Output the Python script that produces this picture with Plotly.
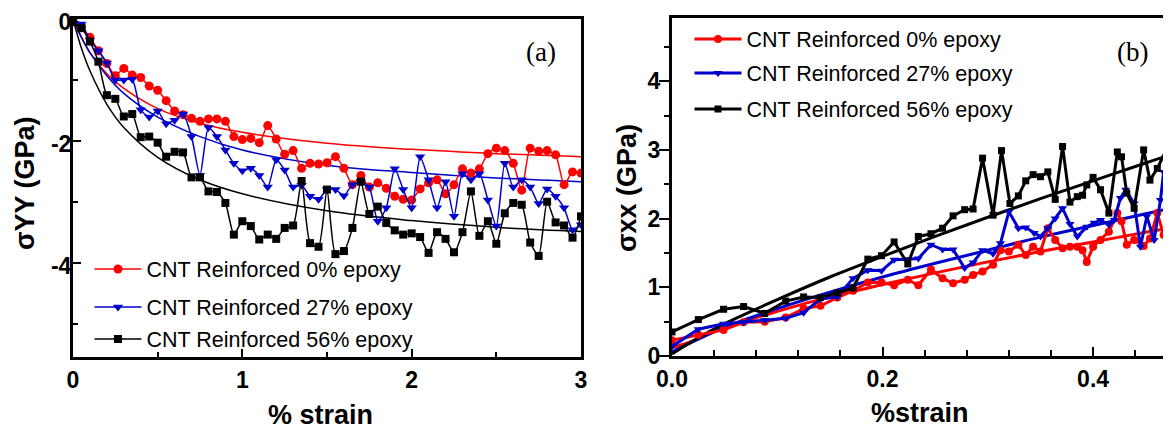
import plotly.graph_objects as go

# page body has an 8px margin: the figure is drawn at (8, 8)
OFF = 8
W, H = 1171 - OFF, 430 - OFF

# ---------------- Panel (a): sigma YY vs % strain ----------------
strain_a = [round(0.05 * i, 2) for i in range(61)]
syy_0 = [0, -0.13, -0.30, -0.52, -0.73, -0.93, -0.81, -0.92, -0.96, -1.10, -1.17,
         -1.34, -1.51, -1.57, -1.63, -1.68, -1.64, -1.64, -1.68, -1.93, -1.98,
         -1.96, -2.03, -1.75, -1.97, -2.22, -2.16, -2.45, -2.37, -2.38, -2.36,
         -2.26, -2.45, -2.72, -2.57, -2.76, -2.69, -2.78, -2.91, -2.96, -2.97,
         -2.79, -2.69, -2.64, -2.87, -2.72, -2.46, -2.53, -2.46, -2.21, -2.12,
         -2.16, -2.37, -2.81, -2.12, -2.17, -2.16, -2.23, -2.72, -2.51, -2.53]
syy_27 = [-0.02, -0.08, -0.35, -0.52, -0.72, -1.00, -1.00, -0.99, -1.49, -1.61, -1.51,
          -1.72, -1.66, -1.56, -1.93, -2.57, -1.78, -1.93, -2.15, -2.37, -2.49,
          -2.45, -2.57, -2.76, -2.31, -2.48, -2.76, -2.73, -2.91, -2.96, -2.80,
          -2.80, -2.90, -2.72, -2.67, -2.76, -3.32, -3.10, -2.46, -2.80, -3.10,
          -2.26, -2.64, -3.10, -2.67, -3.24, -2.54, -2.64, -2.54, -2.97, -3.40,
          -2.37, -2.76, -2.64, -2.76, -3.03, -2.79, -2.91, -3.10, -3.46, -3.38]
syy_56 = [-0.05, -0.15, -0.37, -0.70, -1.25, -1.31, -1.60, -1.56, -1.94, -1.93, -2.03,
          -2.26, -2.18, -2.19, -2.60, -2.60, -2.83, -2.84, -3.02, -3.54, -3.32,
          -3.40, -3.62, -3.54, -3.61, -3.43, -3.39, -2.66, -3.68, -3.74, -2.80,
          -3.86, -3.81, -3.43, -2.67, -3.20, -3.08, -3.35, -3.47, -3.54, -3.52,
          -3.58, -3.84, -3.50, -3.61, -3.83, -3.50, -2.83, -3.56, -3.32, -3.69,
          -3.19, -3.02, -3.05, -3.67, -3.89, -3.00, -3.34, -3.39, -3.59, -3.24]
fit_x_a = [0, 0.05, 0.1, 0.2, 0.3, 0.5, 0.75, 1.0, 1.5, 2.0, 2.5, 3.0]
fit_a_0 = [0, -0.30, -0.55, -0.90, -1.14, -1.47, -1.71, -1.86, -2.04, -2.14, -2.21, -2.26]
fit_a_27 = [0, -0.30, -0.55, -0.93, -1.22, -1.61, -1.93, -2.15, -2.40, -2.52, -2.61, -2.67]
fit_a_56 = [0, -0.48, -0.85, -1.40, -1.78, -2.27, -2.64, -2.87, -3.15, -3.31, -3.42, -3.49]

# ---------------- Panel (b): sigma XX vs %strain ----------------
strain_b_0 = [0.0, 0.025, 0.049, 0.068, 0.088, 0.108, 0.125, 0.141, 0.157, 0.172, 0.186,
              0.199, 0.211, 0.224, 0.234, 0.246, 0.257, 0.267, 0.278, 0.286, 0.295,
              0.305, 0.312, 0.320, 0.329, 0.336, 0.343, 0.350, 0.357, 0.364, 0.371,
              0.378, 0.385, 0.390, 0.394, 0.400, 0.407, 0.415, 0.423, 0.427, 0.432,
              0.439, 0.448, 0.454, 0.461, 0.467, 0.472]
sxx_0 = [0.23, 0.31, 0.38, 0.49, 0.50, 0.56, 0.69, 0.73, 0.85, 0.95, 1.07,
         1.07, 1.03, 1.11, 1.03, 1.26, 1.13, 1.06, 1.11, 1.18, 1.23,
         1.33, 1.54, 1.52, 1.62, 1.47, 1.59, 1.52, 1.86, 1.69, 1.57,
         1.59, 1.59, 1.54, 1.37, 1.59, 1.69, 1.81, 2.08, 1.96, 1.62,
         1.69, 1.60, 1.71, 2.08, 1.76, 1.62]
strain_b_27 = [0.0, 0.025, 0.049, 0.068, 0.088, 0.108, 0.125, 0.141, 0.157, 0.172, 0.186,
               0.199, 0.211, 0.224, 0.234, 0.246, 0.257, 0.267, 0.278, 0.286, 0.295,
               0.305, 0.312, 0.320, 0.329, 0.336, 0.344, 0.350, 0.357, 0.364, 0.371,
               0.378, 0.385, 0.394, 0.401, 0.407, 0.415, 0.420, 0.426, 0.431, 0.439,
               0.445, 0.451, 0.458, 0.464, 0.467, 0.472]
sxx_27 = [0.14, 0.39, 0.47, 0.49, 0.52, 0.55, 0.63, 0.83, 0.86, 1.13, 1.25,
          1.24, 1.40, 1.41, 1.42, 1.62, 1.55, 1.55, 1.28, 1.36, 1.54,
          1.49, 1.64, 2.10, 1.86, 1.87, 1.79, 1.74, 1.86, 2.00, 2.15,
          1.92, 1.74, 1.88, 1.94, 1.98, 1.91, 1.98, 2.30, 2.42, 2.22,
          1.59, 2.03, 1.69, 2.27, 2.68, 2.42]
strain_b_56 = [0.0, 0.025, 0.049, 0.068, 0.088, 0.108, 0.125, 0.141, 0.157, 0.172, 0.186,
               0.199, 0.211, 0.224, 0.234, 0.246, 0.257, 0.267, 0.278, 0.286, 0.295,
               0.305, 0.313, 0.321, 0.329, 0.336, 0.343, 0.350, 0.357, 0.364, 0.371,
               0.378, 0.385, 0.390, 0.394, 0.400, 0.407, 0.415, 0.423, 0.427, 0.432,
               0.439, 0.448, 0.454, 0.461, 0.470, 0.478]
sxx_56 = [0.35, 0.53, 0.68, 0.72, 0.62, 0.80, 0.86, 0.85, 0.92, 0.99, 1.41,
          1.46, 1.66, 1.34, 1.74, 1.78, 1.86, 2.04, 2.13, 2.14, 2.88,
          2.05, 2.99, 2.22, 2.33, 2.55, 2.64, 2.61, 2.68, 2.28, 3.05,
          2.24, 2.32, 2.34, 2.49, 2.60, 2.42, 2.08, 2.97, 2.90, 2.37,
          2.15, 3.00, 2.56, 2.73, 3.02, 2.70]
fit_x_b = [0, 0.02, 0.05, 0.1, 0.15, 0.2, 0.25, 0.3, 0.35, 0.4, 0.45, 0.48]
fit_b_0 = [0.12, 0.22, 0.41, 0.65, 0.86, 1.04, 1.21, 1.37, 1.52, 1.66, 1.80, 1.88]
fit_b_27 = [0.06, 0.21, 0.42, 0.69, 0.93, 1.15, 1.35, 1.54, 1.73, 1.90, 2.07, 2.17]
fit_b_56 = [0.03, 0.22, 0.47, 0.82, 1.15, 1.45, 1.74, 2.02, 2.29, 2.55, 2.81, 2.96]

names = ["CNT Reinforced 0% epoxy", "CNT Reinforced 27% epoxy", "CNT Reinforced 56% epoxy"]
colors = ["#ff0000", "#0000cc", "#000000"]
symbols = ["circle", "triangle-down", "square"]

fig = go.Figure()

# panel (a) fits
for fy, c in zip([fit_a_0, fit_a_27, fit_a_56], colors):
    fig.add_trace(go.Scatter(x=fit_x_a, y=fy, mode="lines", line=dict(color=c, width=1.5, shape="spline"),
                             showlegend=False, xaxis="x", yaxis="y", hoverinfo="skip"))
# panel (a) data
leg_a = ["legend", "legend2", "legend3"]
for ys, c, s, n, lg in zip([syy_0, syy_27, syy_56], colors, symbols, names, leg_a):
    fig.add_trace(go.Scatter(x=strain_a, y=ys, mode="lines+markers", name=n,
                             line=dict(color=c, width=1.5, shape="spline", smoothing=0.6),
                             marker=dict(symbol=s, size=9 if s != "square" else 8, color=c),
                             xaxis="x", yaxis="y", legend=lg))

# panel (b) fits
for fy, c in zip([fit_b_0, fit_b_27, fit_b_56], colors):
    fig.add_trace(go.Scatter(x=fit_x_b, y=fy, mode="lines", line=dict(color=c, width=3, shape="spline"),
                             showlegend=False, xaxis="x2", yaxis="y2", hoverinfo="skip"))
# panel (b) data
leg_b = ["legend4", "legend5", "legend6"]
for xs, ys, c, s, n, lg in zip([strain_b_0, strain_b_27, strain_b_56], [sxx_0, sxx_27, sxx_56],
                               colors, symbols, names, leg_b):
    fig.add_trace(go.Scatter(x=xs, y=ys, mode="lines+markers", name=n,
                             line=dict(color=c, width=3),
                             marker=dict(symbol=s, size=8 if s != "square" else 7, color=c),
                             xaxis="x2", yaxis="y2", legend=lg))

tickfont = dict(family="Liberation Sans, Arial", size=23, color="black", weight="bold")
FRAME = 3

def px(xp):
    return (xp - OFF) / W

def py(yp):
    return 1 - (yp - OFF) / H

fig.update_layout(
    width=W, height=H, margin=dict(l=0, r=0, t=0, b=0, autoexpand=False),
    paper_bgcolor="white", plot_bgcolor="white",
    font=dict(family="Liberation Sans, Arial", color="black"),
    xaxis=dict(domain=[px(73), px(581)], range=[0, 3], tickmode="array",
               tickvals=[0, 1, 2, 3], ticktext=["0", "1", "2", "3"],
               ticks="inside", ticklen=8, tickwidth=2, tickcolor="black",
               minor=dict(tickmode="array", tickvals=[0.5, 1.5, 2.5], ticks="inside", ticklen=5, tickwidth=2, tickcolor="black"),
               showline=True, linewidth=FRAME, linecolor="black", mirror=True, automargin=False,
               ticklabeloverflow="allow",
               showgrid=False, zeroline=False, tickfont=tickfont, anchor="y"),
    yaxis=dict(domain=[py(357), py(19)], range=[-5.55, 0.001], tickmode="array",
               tickvals=[0, -2, -4], ticktext=["0", "-2", "-4"],
               ticks="inside", ticklen=8, tickwidth=2, tickcolor="black",
               minor=dict(tickmode="array", tickvals=[-1, -3, -5], ticks="inside", ticklen=5, tickwidth=2, tickcolor="black"),
               showline=True, linewidth=FRAME, linecolor="black", mirror=True, automargin=False,
               ticklabelstandoff=-6, ticklabelshift=3, ticklabeloverflow="allow",
               showgrid=False, zeroline=False, tickfont=tickfont, anchor="x"),
    xaxis2=dict(domain=[px(672), 1.0], range=[0, 0.474], tickmode="array",
                tickvals=[0, 0.2, 0.4], ticktext=["0.0", "0.2", "0.4"],
                ticks="inside", ticklen=9, tickwidth=2, tickcolor="black",
                minor=dict(tickmode="array", tickvals=[0.04, 0.08, 0.12, 0.16, 0.24, 0.28, 0.32, 0.36, 0.44],
                           ticks="inside", ticklen=6, tickwidth=2, tickcolor="black"),
                showline=True, linewidth=FRAME, linecolor="black", mirror=True, automargin=False,
                ticklabeloverflow="allow",
                showgrid=False, zeroline=False, tickfont=tickfont, anchor="y2"),
    yaxis2=dict(domain=[py(356), py(18)], range=[0, 4.92], tickmode="array",
                tickvals=[0, 1, 2, 3, 4], ticktext=["0", "1", "2", "3", "4"],
                ticks="outside", ticklen=10, tickwidth=2, tickcolor="black",
                minor=dict(tickmode="array", tickvals=[0.5, 1.5, 2.5, 3.5, 4.5], ticks="outside", ticklen=5, tickwidth=2, tickcolor="black"),
                showline=True, linewidth=FRAME, linecolor="black", mirror=False, automargin=False,
                ticklabelstandoff=-6, ticklabeloverflow="allow",
                showgrid=False, zeroline=False, tickfont=tickfont, anchor="x2"),
)

legfont = dict(family="Liberation Sans, Arial", size=21.5, color="black")
leg_pos = {"legend": (89.5, 269), "legend2": (89.5, 307), "legend3": (89.5, 339),
           "legend4": (689.5, 39), "legend5": (689.5, 73), "legend6": (689.5, 109)}
for k, (lx, ly) in leg_pos.items():
    fig.update_layout(**{k: dict(x=px(lx), y=py(ly), xanchor="left", yanchor="middle",
                                 bgcolor="rgba(0,0,0,0)", borderwidth=0, font=legfont,
                                 itemwidth=47)})

titlefont = dict(family="Liberation Sans, Arial", size=27, color="black", weight="bold")
annots = [
    dict(text="% strain", x=px(320), y=py(415), font=titlefont, textangle=0),
    dict(text="σYY (GPa)", x=px(25), y=py(183), font=titlefont, textangle=-90),
    dict(text="%strain", x=px(920), y=py(413), font=titlefont, textangle=0),
    dict(text="σxx (GPa)", x=px(627), y=py(188), font=titlefont, textangle=-90),
    dict(text="(a)", x=px(541), y=py(52), font=dict(family="Liberation Serif, Times New Roman", size=27, color="black")),
    dict(text="(b)", x=px(1132), y=py(52), font=dict(family="Liberation Serif, Times New Roman", size=27, color="black")),
]
for a in annots:
    fig.add_annotation(xref="paper", yref="paper", showarrow=False, xanchor="center", yanchor="middle", **a)

fig.write_html("out.html")
